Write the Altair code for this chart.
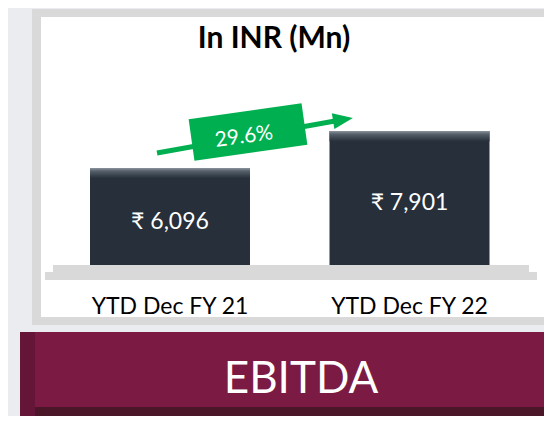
import altair as alt
import pandas as pd

# ---- data ----
periods = ["YTD Dec FY 21", "YTD Dec FY 22"]
ebitda = [6096, 7901]
value_labels = ["₹ 6,096", "₹ 7,901"]
growth_label = ["29.6%"]
title_text = ["In INR (Mn)"]
banner_text = ["EBITDA"]

df = pd.DataFrame({"period": periods, "value": ebitda, "label": value_labels})
one = pd.DataFrame({"k": [0]})

W, H = 536, 408
FLOOR = 1366  # value sitting on the shelf
FONT = "Lato"

x_scale = alt.Scale(domain=periods, range=[82, 481.5], paddingInner=0.332, paddingOuter=0)
y_scale = alt.Scale(domain=[0, 10000], range=[285, 80])
X = alt.X("period:N", scale=x_scale, axis=None)


def box(x1, x2, y1, y2, color):
    return alt.Chart(one).mark_rect(color=color).encode(
        x=alt.value(x1), x2=alt.value(x2), y=alt.value(y1), y2=alt.value(y2)
    )


frame = box(24, 545, 1, 317, "#d9d9d9")
inner = box(33, 545, 9, 309, "#ffffff")

title = alt.Chart(pd.DataFrame({"t": title_text})).mark_text(
    font=FONT, fontSize=30, fontWeight="bold", color="#000000", baseline="middle", align="center"
).encode(x=alt.value(266), y=alt.value(31), text="t:N")

bars = alt.Chart(df).mark_bar(color="#262f3a").encode(
    x=X, y=alt.Y("value:Q", scale=y_scale, axis=None), y2=alt.datum(FLOOR)
)

bevel_grad = alt.LinearGradient(
    gradient="linear",
    stops=[
        alt.GradientStop(color="#8c949c", offset=0),
        alt.GradientStop(color="#55606b", offset=0.3),
        alt.GradientStop(color="#262f3a", offset=1),
    ],
    x1=0, x2=0, y1=0, y2=1,
)
bevel = alt.Chart(df).transform_calculate(bev="datum.value - 500").mark_bar(
    color=bevel_grad
).encode(x=X, y=alt.Y("value:Q"), y2="bev:Q")

shelf_top = box(45, 521, 257, 264, "#d9d9d9")
shelf_low = box(37, 529, 264, 272, "#d9d9d9")

val_text = alt.Chart(df).transform_calculate(mid=f"(datum.value + {FLOOR}) / 2").mark_text(
    font=FONT, fontSize=23, color="#ffffff", baseline="middle", dy=5
).encode(x=X, y=alt.Y("mid:Q"), text="label:N")

cat_text = alt.Chart(df).mark_text(
    font=FONT, fontSize=23, color="#000000", baseline="middle"
).encode(x=X, y=alt.value(299), text="period:N")

green = "#00b050"
arrow_line = alt.Chart(one).mark_rule(color=green, strokeWidth=5, strokeCap="butt").encode(
    x=alt.value(149), y=alt.value(145), x2=alt.value(327), y2=alt.value(113)
)
arrow_head = alt.Chart(one).mark_point(
    shape="M -1,-0.8 L 1,0 L -1,0.8 Z", filled=True, size=400, angle=351,
    color=green, opacity=1, strokeWidth=0
).encode(x=alt.value(335), y=alt.value(111.5))
growth_box = alt.Chart(one).mark_point(
    shape="M -1,-0.368 L 1,-0.368 L 1,0.368 L -1,0.368 Z", filled=True, size=12996, angle=352,
    color=green, opacity=1, strokeWidth=0
).encode(x=alt.value(240), y=alt.value(124))
growth_text = alt.Chart(pd.DataFrame({"g": growth_label})).mark_text(
    font=FONT, fontSize=21, color="#ffffff", angle=352, baseline="middle"
).encode(x=alt.value(236), y=alt.value(129), text="g:N")

banner = box(12, 545, 324, 420, "#7b1a42")
banner_left = box(12, 27, 324, 416, "#651537")
banner_bottom = box(27, 545, 399, 420, "#4a1628")
banner_txt = alt.Chart(pd.DataFrame({"b": banner_text})).mark_text(
    font=FONT, fontSize=44, color="#ffffff", baseline="middle"
).encode(x=alt.value(293), y=alt.value(372), text="b:N")

chart = alt.layer(
    frame, inner, title, bars, bevel, shelf_top, shelf_low, val_text, cat_text,
    arrow_line, arrow_head, growth_box, growth_text,
    banner, banner_left, banner_bottom, banner_txt,
).properties(
    width=W, height=H, padding=0, background="#eaecf0",
    autosize=alt.AutoSizeParams(type="none"),
).configure_view(stroke=None)

chart.save("out.html", embed_options={"renderer": "svg", "actions": False})
